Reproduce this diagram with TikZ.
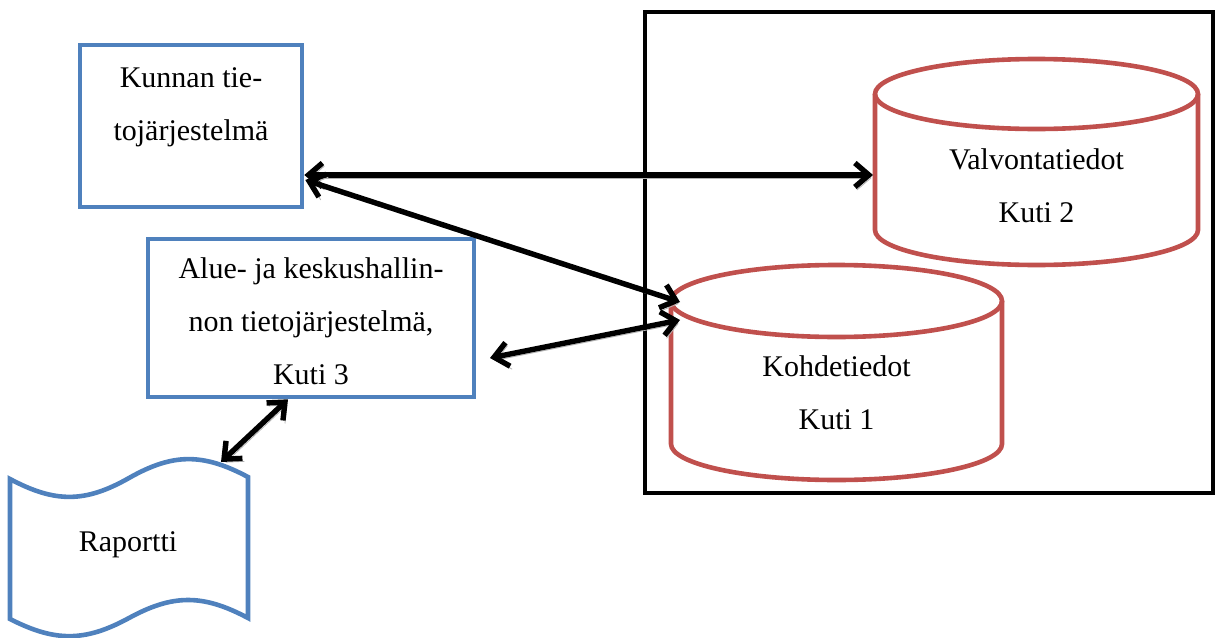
\documentclass[tikz,border=0pt]{standalone}
\usepackage{fontspec}
\setmainfont{Liberation Serif}
\usetikzlibrary{arrows.meta}
\usetikzlibrary{calc}

\definecolor{boxblue}{HTML}{4F81BD}
\definecolor{dbred}{HTML}{C0504D}

\tikzset{
  bluebox/.style={draw=boxblue, line width=2.3pt, rectangle, inner sep=0pt},
  dbline/.style={draw=dbred, line width=2.3pt},
  lbl/.style={align=center, inner sep=0pt, font=\fontsize{15}{26.5}\selectfont},
  link/.style={{Straight Barb[length=7pt,width=12pt]}-{Straight Barb[length=7pt,width=12pt]},
    line width=2.7pt, preaction={draw=black!30, transform canvas={shift={(1pt,-1.5pt)}}}}
}

\begin{document}
\begin{tikzpicture}[x=0.5pt, y=-0.5pt]
	\useasboundingbox (0,0) rectangle (1220,637);
	% frame round the Kuti databases
	\node (kanta) [draw, line width=2.2pt, minimum width=284pt, minimum height=240.5pt] at (929,252.5) {};

	% systems
	\node (kunnan) [bluebox, minimum width=111pt, minimum height=81pt] at (191,126) {};
	\node (kunnantxt) [lbl] at (191,107) {Kunnan tie-\\tojärjestelmä};
	\node (alue) [bluebox, minimum width=163pt, minimum height=79pt] at (311,318) {};
	\node (aluetxt) [lbl] at (311,321) {Alue- ja keskushallin-\\non tietojärjestelmä,\\Kuti 3};

	% databases
	\draw [dbline, fill=white] (875,94) -- (875,230) arc[start angle=180, end angle=0, x radius=161.5, y radius=35] -- (1198,94);
	\draw [dbline] (1036.5,94) ellipse [x radius=161.5, y radius=35];
	\node (valvtxt) [lbl] at (1036.5,186) {Valvontatiedot\\Kuti 2};
	\draw [dbline, fill=white] (671,301) -- (671,444) arc[start angle=180, end angle=0, x radius=165.5, y radius=36] -- (1002,301);
	\draw [dbline] (836.5,301) ellipse [x radius=165.5, y radius=36];
	\node (kohdetxt) [lbl] at (836.5,393) {Kohdetiedot\\Kuti 1};

	% report
	\draw [draw=boxblue, line width=2.3pt] (10,479) .. controls (55,503) and (85,503) .. (129,478)
		.. controls (173,453) and (203,453) .. (248,477) -- (248,618)
		.. controls (203,594) and (173,594) .. (129,618)
		.. controls (85,642) and (55,642) .. (10,619) -- cycle;
	\node (raportti) [lbl] at (128,545) {Raportti};

	\coordinate (valvL) at (873,175);
	\coordinate (kohdeA) at (680,302);
	\coordinate (kohdeB) at (680,320);
	\coordinate (alueR) at (490,358);
	\coordinate (rapTop) at (221,462);

	% links
	\draw [link] ($(kunnan.east)+(0,49)$) -- (valvL);
	\draw [link] ($(kunnan.east)+(1,54)$) -- (kohdeA);
	\draw [link] (alueR) -- (kohdeB);
	\draw [link] (rapTop) -- ($(alue.south)+(-23,0)$);
\end{tikzpicture}
\end{document}
